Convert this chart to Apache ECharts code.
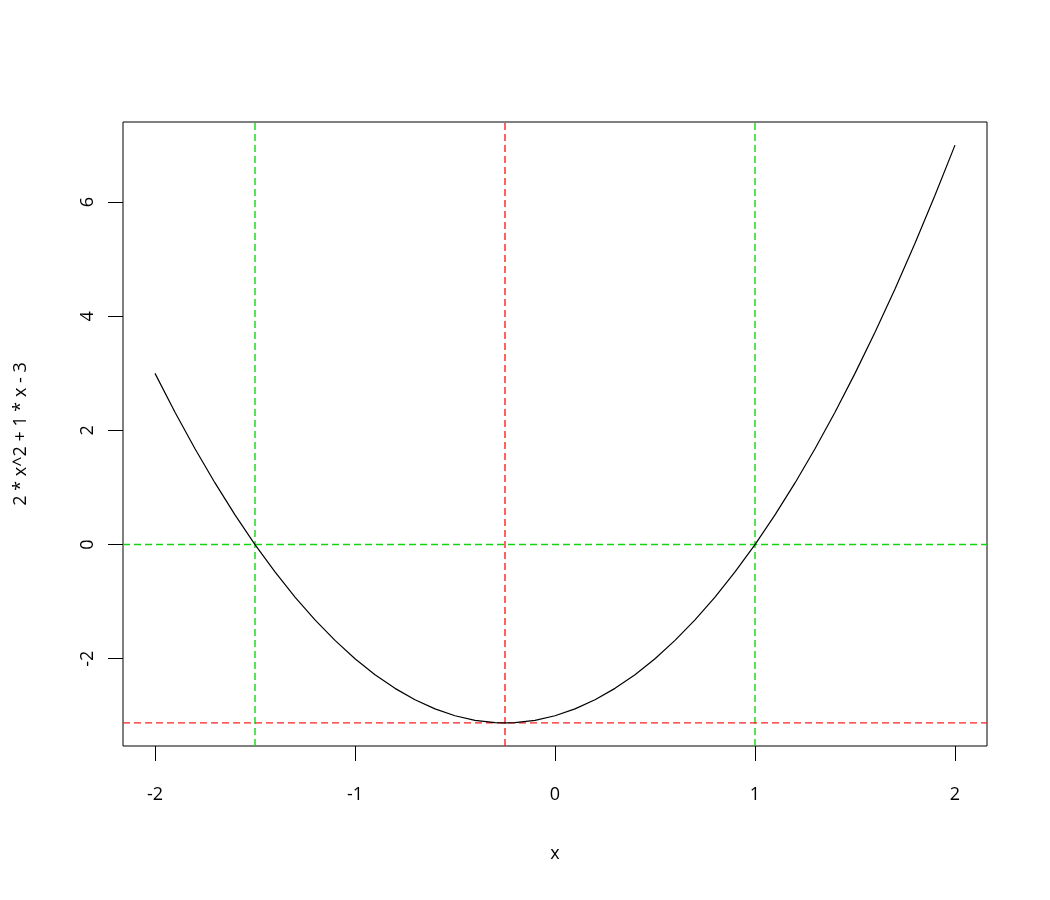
<!DOCTYPE html>
<html><head><meta charset="utf-8">
<script src="https://cdn.jsdelivr.net/npm/echarts@6/dist/echarts.min.js"></script>
<style>html,body{margin:0;padding:0;background:#fff}#c{width:1050px;height:900px}</style>
</head><body><div id="c"></div>
<script>
// curve points (x, y)
const xs = [-2.0,-1.9,-1.8,-1.7,-1.6,-1.5,-1.4,-1.3,-1.2,-1.1,-1.0,-0.9,-0.8,-0.7,-0.6,-0.5,-0.4,-0.3,-0.25,-0.2,-0.1,0.0,0.1,0.2,0.3,0.4,0.5,0.6,0.7,0.8,0.9,1.0,1.1,1.2,1.3,1.4,1.5,1.6,1.7,1.8,1.9,2.0];
const ys = [3.00,2.32,1.68,1.08,0.52,0.00,-0.48,-0.92,-1.32,-1.68,-2.00,-2.28,-2.52,-2.72,-2.88,-3.00,-3.08,-3.12,-3.125,-3.12,-3.08,-3.00,-2.88,-2.72,-2.52,-2.28,-2.00,-1.68,-1.32,-0.92,-0.48,0.00,0.52,1.08,1.68,2.32,3.00,3.72,4.48,5.28,6.12,7.00];
const xTicks = [-2,-1,0,1,2];
const yTicks = [-2,0,2,4,6];
const rootsX = [-1.5, 1];
const zeroY = [0];
const vertexX = [-0.25];
const vertexY = [-3.125];
const xTitle = 'x';
const yTitle = '2 * x^2 + 1 * x - 3';

const FONT = 'Open Sans';
const xMin = -2.16, xMax = 2.16;
const yMin = -3.53, yMax = 7.405;
const green = '#14d414', red = '#ff1f1f';
const dash = [7,4];

const chart = echarts.init(document.getElementById('c'), null, {renderer:'canvas'});
const refLine = (color, pts) => ({
  type:'line', data:pts, silent:true, showSymbol:false, symbol:'none', z:2,
  lineStyle:{color, type:dash, width:1.4}
});
const vLines = (color, vals) => vals.map(v => refLine(color, [[v, yMin],[v, yMax]]));
const hLines = (color, vals) => vals.map(v => refLine(color, [[xMin, v],[xMax, v]]));
chart.setOption({
  animation:false,
  backgroundColor:'#fff',
  grid:{left:123, right:63, top:122, bottom:154, show:true, borderColor:'#000', borderWidth:1, backgroundColor:'transparent'},
  xAxis:{type:'value', min:xMin, max:xMax,
    axisLine:{show:false, onZero:false}, splitLine:{show:false},
    axisTick:{show:true, length:15, lineStyle:{color:'#000'}, customValues:xTicks},
    axisLabel:{customValues:xTicks, fontFamily:FONT, fontSize:18, color:'#000', margin:40},
    name:xTitle, nameLocation:'middle', nameGap:99, nameTextStyle:{fontFamily:FONT, fontSize:18, color:'#000'}
  },
  yAxis:{type:'value', min:yMin, max:yMax,
    axisLine:{show:false, onZero:false}, splitLine:{show:false},
    axisTick:{show:true, length:15, lineStyle:{color:'#000'}, customValues:yTicks},
    axisLabel:{customValues:yTicks, fontFamily:FONT, fontSize:18, color:'#000', margin:26, rotate:90},
    name:yTitle, nameLocation:'middle', nameGap:93, nameRotate:90, nameTextStyle:{fontFamily:FONT, fontSize:18, color:'#000'}
  },
  series:[
    ...vLines(green, rootsX), ...hLines(green, zeroY),
    ...vLines(red, vertexX), ...hLines(red, vertexY),
    {
    type:'line', data: xs.map((x,i)=>[x, ys[i]]), showSymbol:false, symbol:'none',
    lineStyle:{color:'#000', width:1.2}, z:3
  }]
});
</script></body></html>
